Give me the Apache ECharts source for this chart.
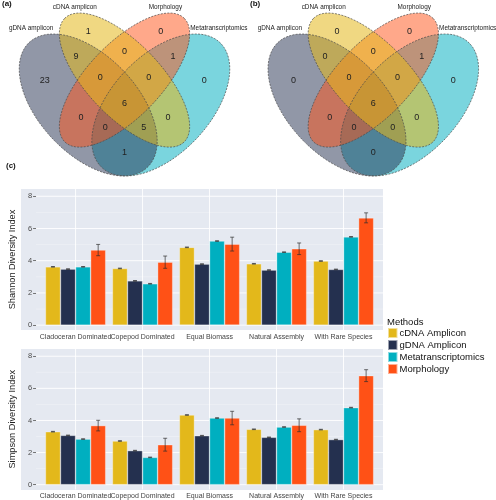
<!DOCTYPE html>
<html><head><meta charset="utf-8">
<script src="https://cdn.jsdelivr.net/npm/echarts@6/dist/echarts.min.js"></script>
<style>html,body{margin:0;padding:0;background:#fff}#c{width:496px;height:500px}</style>
</head><body><div id="c"></div>
<script>
// ---------- DATA ----------
const categories = ['Cladoceran Dominated','Copepod Dominated','Equal Biomass','Natural Assembly','With Rare Species'];
const methods = ['cDNA Amplicon','gDNA Amplicon','Metatranscriptomics','Morphology'];
const yTicks = [0,2,4,6,8];

const shannonCDNA  = [3.62,3.52,4.83,3.81,3.98];
const shannonGDNA  = [3.48,2.75,3.79,3.42,3.46];
const shannonMeta  = [3.62,2.57,5.22,4.53,5.48];
const shannonMorph = [4.66,3.91,5.03,4.74,6.66];
const shannonCDNASd  = [0.02,0.02,0.02,0.02,0.02];
const shannonGDNASd  = [0.02,0.02,0.02,0.02,0.02];
const shannonMetaSd  = [0.02,0.02,0.02,0.02,0.02];
const shannonMorphSd = [0.35,0.38,0.43,0.36,0.31];

const simpsonCDNA  = [3.30,2.72,4.34,3.45,3.43];
const simpsonGDNA  = [3.07,2.12,3.05,2.95,2.81];
const simpsonMeta  = [2.84,1.70,4.15,3.59,4.80];
const simpsonMorph = [3.68,2.49,4.15,3.70,6.79];
const simpsonCDNASd  = [0.02,0.02,0.02,0.02,0.02];
const simpsonGDNASd  = [0.02,0.02,0.02,0.02,0.02];
const simpsonMetaSd  = [0.02,0.02,0.02,0.02,0.02];
const simpsonMorphSd = [0.33,0.40,0.42,0.40,0.37];

const vennSets = ['gDNA amplicon','cDNA amplicon','Morphology','Metatranscriptomics'];
// regions: g, c, m, t, gc, cm, mt, gcm, cmt, gcmt, gm, gmt, gct, ct, gt
const vennCountsA = [23,1,0,0,9,0,1,0,0,6,0,0,5,0,1];
const vennCountsB = [0,0,0,0,0,0,1,0,0,6,0,0,0,0,0];

// ---------- LAYOUT / STYLE ----------
const FONT = 'Liberation Sans, Arial, Helvetica, sans-serif';
const colors = ['#E3B81B','#24304F','#00AFC0','#FF5116'];
const vennColors = ['rgba(36,48,79,0.5)','rgba(227,184,27,0.55)','rgba(255,81,22,0.5)','rgba(0,175,192,0.52)'];
const VENN_ELLIPSES = [ // draw order (normalized, y up)
  {set:3, cx:0.65, cy:0.47, a:0.35, b:0.20, rot:45},
  {set:0, cx:0.35, cy:0.47, a:0.35, b:0.20, rot:135},
  {set:2, cx:0.50, cy:0.57, a:0.35, b:0.15, rot:45},
  {set:1, cx:0.50, cy:0.57, a:0.35, b:0.15, rot:135}
];
const VENN_ANCHORS = [[0.17,0.57],[0.35,0.765],[0.65,0.765],[0.83,0.57],[0.30,0.665],[0.50,0.685],[0.70,0.665],
  [0.40,0.58],[0.60,0.58],[0.50,0.475],[0.32,0.42],[0.42,0.38],[0.58,0.38],[0.68,0.42],[0.50,0.28]];
const VENN_NAME_POS = [[0.114,0.779],[0.295,0.863],[0.669,0.863],[0.89,0.779]];
const VENN_YMAX = 0.8916;

const chart = echarts.init(document.getElementById('c'), null, {renderer:'canvas'});

function ellipsePoints(e, api){
  const pts = [];
  const th = e.rot*Math.PI/180;
  for(let i=0;i<120;i++){
    const p = i/120*Math.PI*2;
    const X = e.cx + e.a*Math.cos(p)*Math.cos(th) - e.b*Math.sin(p)*Math.sin(th);
    const Y = e.cy + e.a*Math.cos(p)*Math.sin(th) + e.b*Math.sin(p)*Math.cos(th);
    pts.push(api.coord([X,Y]));
  }
  return pts;
}

function vennSeries(p, counts){
  return [
    {type:'custom', xAxisIndex:p, yAxisIndex:p, z:2, silent:true, clip:false,
     data: VENN_ELLIPSES.map(()=>[0.5,0.5]), encode:{x:0,y:1},
     renderItem:(params, api)=>{
       const e = VENN_ELLIPSES[params.dataIndex];
       return {type:'polygon', shape:{points:ellipsePoints(e,api)}, style:{fill:vennColors[e.set], stroke:null, lineWidth:0}};
     }},
    {type:'custom', xAxisIndex:p, yAxisIndex:p, z:3, silent:true, clip:false,
     data: VENN_ELLIPSES.map(()=>[0.5,0.5]), encode:{x:0,y:1},
     renderItem:(params, api)=>{
       const e = VENN_ELLIPSES[params.dataIndex];
       return {type:'polygon', shape:{points:ellipsePoints(e,api)}, style:{fill:null, stroke:'#4a4a4a', lineWidth:0.7, lineDash:[2,1.3]}};
     }},
    {type:'custom', xAxisIndex:p, yAxisIndex:p, z:4, silent:true, clip:false,
     data: counts.map((n,i)=>[VENN_ANCHORS[i][0], VENN_ANCHORS[i][1], n]), encode:{x:0,y:1},
     renderItem:(params, api)=>{
       const pt = api.coord([api.value(0), api.value(1)]);
       return {type:'text', x:pt[0], y:pt[1], style:{text:String(api.value(2)), fill:'#222', fontSize:9, fontFamily:FONT, textAlign:'center', textVerticalAlign:'middle'}};
     }},
    {type:'custom', xAxisIndex:p, yAxisIndex:p, z:4, silent:true, clip:false,
     data: vennSets.map((s,i)=>[VENN_NAME_POS[i][0], VENN_NAME_POS[i][1], i]), encode:{x:0,y:1},
     renderItem:(params, api)=>{
       const pt = api.coord([api.value(0), api.value(1)]);
       return {type:'text', x:pt[0], y:pt[1], style:{text:vennSets[params.dataIndex], fill:'#222', fontSize:6.4, fontFamily:FONT, textAlign:'center', textVerticalAlign:'middle'}};
     }}
  ];
}

function gridLineSeries(c){
  return {type:'custom', xAxisIndex:2+c, yAxisIndex:2+c, z:1, silent:true, clip:false,
    data:[[0,0]], encode:{x:0,y:1},
    renderItem:(params, api)=>{
      const cs = params.coordSys;
      const x0 = cs.x-6, x1 = cs.x+cs.width+6;
      const ch = [];
      for(let i=0;i<yTicks.length;i++){
        const y = api.coord([0,yTicks[i]])[1];
        ch.push({type:'line', shape:{x1:x0,y1:y,x2:x1,y2:y}, style:{stroke:'#ffffff', lineWidth:0.9}});
        if(i<yTicks.length-1){
          const ym = api.coord([0,(yTicks[i]+yTicks[i+1])/2])[1];
          ch.push({type:'line', shape:{x1:x0,y1:ym,x2:x1,y2:ym}, style:{stroke:'rgba(255,255,255,0.55)', lineWidth:0.5}});
        }
      }
      for(let k=0;k<categories.length;k++){
        const x = api.coord([k,0])[0];
        ch.push({type:'line', shape:{x1:x,y1:cs.y,x2:x,y2:cs.y+cs.height}, style:{stroke:'#ffffff', lineWidth:0.9}});
      }
      return {type:'group', children:ch};
    }};
}

function makeErr(k){
  return function(params, api){
    const cat = api.value(0), m = api.value(1), s = api.value(2);
    const band = api.size([1,0])[0];
    const group = band*0.9, bw = group/4;
    const xc = api.coord([cat, m])[0] - group/2 + (k+0.5)*bw;
    const yt = api.coord([cat, m+s])[1], yb = api.coord([cat, m-s])[1];
    const cap = 2;
    const st = {stroke:'rgba(45,45,45,0.85)', lineWidth:0.8};
    return {type:'group', children:[
      {type:'line', shape:{x1:xc,y1:yt,x2:xc,y2:yb}, style:st},
      {type:'line', shape:{x1:xc-cap,y1:yt,x2:xc+cap,y2:yt}, style:st},
      {type:'line', shape:{x1:xc-cap,y1:yb,x2:xc+cap,y2:yb}, style:st}
    ]};
  };
}

function barSeries(c, vals, sds){
  const out = [];
  vals.forEach((v,k)=>{
    out.push({type:'bar', name:methods[k], xAxisIndex:2+c, yAxisIndex:2+c, data:v,
      barGap:'0%', barCategoryGap:'10%', z:3, silent:true,
      itemStyle:{color:colors[k], borderColor:'rgba(255,255,255,0.55)', borderWidth:0.6}});
    out.push({type:'custom', xAxisIndex:2+c, yAxisIndex:2+c, z:5, silent:true,
      data: v.map((x,i)=>[i,x,sds[k][i]]), encode:{x:0,y:1}, renderItem:makeErr(k)});
  });
  return out;
}

function valueYAxis(grid, name){
  return {type:'value', gridIndex:grid, min:-0.3, max:8.45, offset:6,
    splitLine:{show:false}, axisLine:{show:false},
    axisTick:{show:true, length:3, customValues:yTicks, lineStyle:{color:'#555', width:0.8}},
    axisLabel:{customValues:yTicks, fontSize:7.5, color:'#4d4d4d', margin:4, fontFamily:FONT},
    name:name, nameLocation:'middle', nameGap:8.5,
    nameTextStyle:{fontSize:9.2, color:'#222', fontFamily:FONT}};
}
function catXAxis(grid){
  return {type:'category', gridIndex:grid, data:categories,
    axisLine:{show:false}, axisTick:{show:false}, splitLine:{show:false},
    axisLabel:{interval:0, fontSize:7, color:'#444', margin:3.5, fontFamily:FONT}};
}
const hiddenX = g => ({type:'value', gridIndex:g, min:0, max:1, show:false});
const hiddenY = g => ({type:'value', gridIndex:g, min:0, max:VENN_YMAX, show:false});

const option = {
  animation:false,
  backgroundColor:'#ffffff',
  textStyle:{fontFamily:FONT},
  grid:[
    {left:3.5, top:0, width:242, height:222},
    {left:252.3, top:0, width:242, height:222},
    {left:27, top:189, width:350, height:141},
    {left:27, top:349, width:350, height:141}
  ],
  xAxis:[hiddenX(0), hiddenX(1), catXAxis(2), catXAxis(3)],
  yAxis:[hiddenY(0), hiddenY(1), valueYAxis(2,'Shannon Diversity Index'), valueYAxis(3,'Simpson Diversity Index')],
  legend:{data:methods, orient:'vertical', left:387, top:327, padding:0, itemWidth:9.5, itemHeight:10, itemGap:0,
    icon:'rect', selectedMode:false,
    textStyle:{fontSize:9.5, color:'#111', fontFamily:FONT, lineHeight:10, padding:[0,0,0,-3]}},
  graphic:[
    {type:'rect', z:-5, silent:true, shape:{x:21,y:189,width:362,height:141}, style:{fill:'#E5E9F1'}},
    {type:'rect', z:-5, silent:true, shape:{x:21,y:349,width:362,height:141}, style:{fill:'#E5E9F1'}},
    {type:'text', z:10, left:2, top:0, style:{text:'(a)', fontSize:8, fontWeight:'bold', fill:'#111', fontFamily:FONT}},
    {type:'text', z:10, left:250, top:0, style:{text:'(b)', fontSize:8, fontWeight:'bold', fill:'#111', fontFamily:FONT}},
    {type:'text', z:10, left:6, top:162, style:{text:'(c)', fontSize:8, fontWeight:'bold', fill:'#111', fontFamily:FONT}},
    {type:'text', z:10, left:387, top:317, style:{text:'Methods', fontSize:9.5, fill:'#111', fontFamily:FONT}}
  ],
  series:[].concat(
    vennSeries(0, vennCountsA),
    vennSeries(1, vennCountsB),
    [gridLineSeries(0), gridLineSeries(1)],
    barSeries(0, [shannonCDNA,shannonGDNA,shannonMeta,shannonMorph], [shannonCDNASd,shannonGDNASd,shannonMetaSd,shannonMorphSd]),
    barSeries(1, [simpsonCDNA,simpsonGDNA,simpsonMeta,simpsonMorph], [simpsonCDNASd,simpsonGDNASd,simpsonMetaSd,simpsonMorphSd])
  )
};
chart.setOption(option);
</script></body></html>
